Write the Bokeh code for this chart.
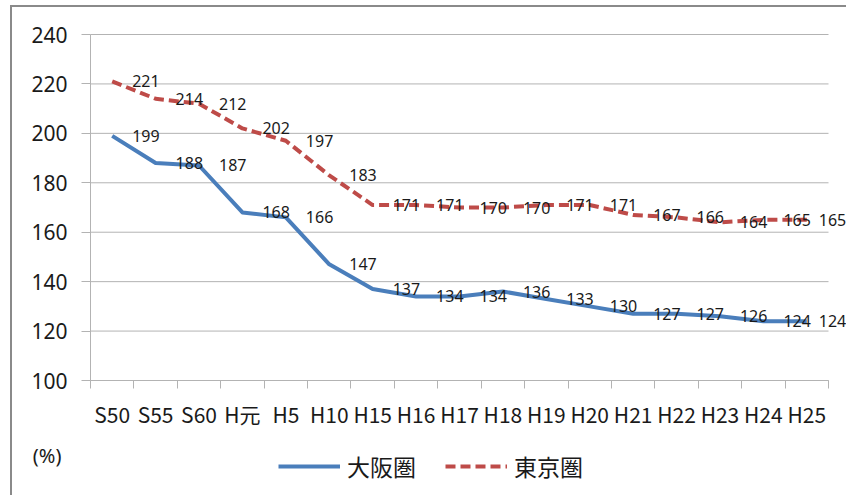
from bokeh.plotting import figure
from bokeh.models import (ColumnDataSource, LabelSet, Legend, LegendItem, Label,
                          FixedTicker, Range1d, LinearAxis)
from bokeh.core.properties import value
from bokeh.embed import file_html
from bokeh.resources import INLINE

categories = ["S50", "S55", "S60", "H元", "H5", "H10", "H15", "H16", "H17",
              "H18", "H19", "H20", "H21", "H22", "H23", "H24", "H25"]
osaka = [199, 188, 187, 168, 166, 147, 137, 134, 134, 136, 133, 130, 127, 127, 126, 124, 124]
tokyo = [221, 214, 212, 202, 197, 183, 171, 171, 170, 170, 171, 171, 167, 166, 164, 165, 165]
series_names = ["大阪圏", "東京圏"]
y_ticks = [100, 120, 140, 160, 180, 200, 220, 240]
unit_label = "(%)"

BLUE = "#4a7ebb"
RED = "#be4b48"
GRID = "#b3b3b3"
TXT = "#1a1a1a"
NUM_FONT = "Noto Sans"
CJK_FONT = "Noto Sans CJK JP"

# canvas geometry (px)
W, H = 836, 490
PLOT_L, PLOT_R, PLOT_T, PLOT_B = 78, 816, 27, 373   # plot area inside the canvas

n = len(categories)
xc = [i + 0.5 for i in range(n)]  # category centres on the axis scale
ppx = (PLOT_R - PLOT_L) / n                     # px per category
ppy = (PLOT_B - PLOT_T) / (y_ticks[-1] - y_ticks[0])  # px per unit
x_range = Range1d(-PLOT_L / ppx, (W - PLOT_L) / ppx)
y_range = Range1d(y_ticks[0] - (H - PLOT_B) / ppy, y_ticks[-1] + PLOT_T / ppy)

p = figure(x_range=x_range, y_range=y_range, width=W, height=H,
           output_backend="svg", toolbar_location=None,
           x_axis_location=None, y_axis_location=None, min_border=0)
p.margin = (5, 0, 0, 10)
p.styles = {"border-left": "2px solid #8a8a8a", "border-top": "2px solid #8a8a8a"}
p.outline_line_color = None
p.background_fill_color = "white"
p.grid.visible = False

# horizontal gridlines over the category span
p.segment(x0=[0] * len(y_ticks), x1=[n] * len(y_ticks), y0=y_ticks, y1=y_ticks,
          line_color=GRID, line_width=1)

# y axis at the left edge of the categories
yax = LinearAxis(ticker=FixedTicker(ticks=y_ticks), fixed_location=0,
                 bounds=(y_ticks[0], y_ticks[-1]))
yax.axis_line_color = GRID
yax.major_tick_line_color = GRID
yax.major_tick_out = 9
yax.major_tick_in = 0
yax.minor_tick_line_color = None
yax.major_label_text_font = NUM_FONT
yax.major_label_text_font_size = "21px"
yax.major_label_text_color = TXT
yax.major_label_standoff = 14
p.add_layout(yax, "left")

# x axis: labels at category centres, ticks at category boundaries
xax = LinearAxis(ticker=FixedTicker(ticks=xc, minor_ticks=list(range(n + 1))),
                 major_label_overrides={x: c for x, c in zip(xc, categories)},
                 fixed_location=y_ticks[0], bounds=(0, n))
xax.axis_line_color = GRID
xax.major_tick_line_color = None
xax.major_tick_out = 8
xax.major_tick_in = 0
xax.minor_tick_line_color = GRID
xax.minor_tick_out = 8
xax.minor_tick_in = 0
xax.major_label_text_font = CJK_FONT
xax.major_label_text_font_size = "21px"
xax.major_label_text_color = TXT
xax.major_label_standoff = 10
p.add_layout(xax, "below")

r1 = p.line(xc, osaka, line_color=BLUE, line_width=4, line_join="round")
r2 = p.line(xc, tokyo, line_color=RED, line_width=4, line_dash="10 5")

offs = [20] * (n - 1) + [12]
for vals in (osaka, tokyo):
    src = ColumnDataSource(dict(x=xc, y=vals, t=[str(v) for v in vals], off=offs))
    p.add_layout(LabelSet(x="x", y="y", text="t", source=src, x_offset="off",
                          text_align="left", text_baseline="middle",
                          text_font=value(NUM_FONT), text_font_size=value("16px"),
                          text_color=TXT))

p.add_layout(Label(x=-1.0, y=69.6, text=unit_label, text_align="center",
                   text_baseline="middle", text_font=NUM_FONT,
                   text_font_size="20px", text_color=TXT))

legend = Legend(items=[LegendItem(label=series_names[0], renderers=[r1]),
                       LegendItem(label=series_names[1], renderers=[r2])],
                orientation="horizontal", location=(266, 14),
                glyph_width=62, glyph_height=24, label_standoff=7, spacing=29,
                padding=0, margin=0, border_line_color=None, background_fill_alpha=0,
                label_text_font=CJK_FONT, label_text_font_size="23px", label_text_color=TXT)
p.add_layout(legend)

open("out.html", "w").write(file_html(p, INLINE))
